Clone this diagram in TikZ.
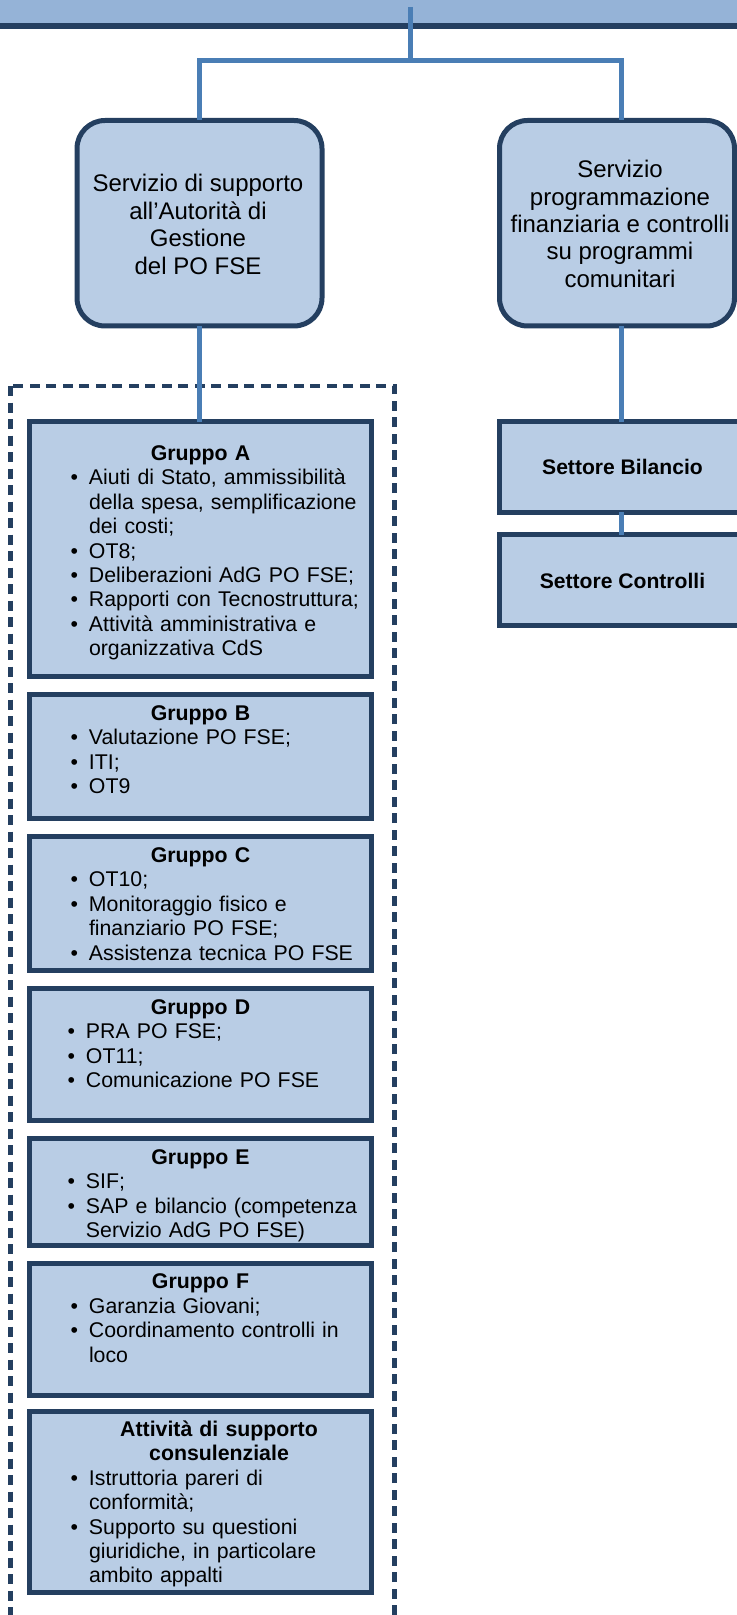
\documentclass[tikz,border=0pt]{standalone}
\usepackage{fontspec}
\setmainfont{Liberation Sans}

\definecolor{bfill}{HTML}{B9CDE5}
\definecolor{bord}{HTML}{243F60}
\definecolor{conncol}{HTML}{4A7EB5}
\definecolor{barfill}{HTML}{95B3D7}

% indentation of the bullet text inside the group boxes
\newlength{\ind}
\setlength{\ind}{29.75pt}
% paragraph settings for the group texts
\newcommand{\grsetup}{\setlength{\parindent}{0pt}\setlength{\parskip}{0pt}}
% one bullet item; lines inside an item are broken with \newline
\newcommand{\itm}[1]{\par{\leftskip=\ind\noindent\llap{\textbullet\hspace{5.4pt}}#1\par}}
% bold centred heading of a group box
\newcommand{\grtitle}[1]{{\centering\bfseries\rule{0pt}{9pt}#1\par}}

\tikzset{
  shapebox/.style={rectangle, draw=bord, fill=bfill, line width=2.5pt,
    inner sep=0pt, outer sep=0pt},
  roundbox/.style={shapebox, rounded corners=14pt},
  grbox/.style={shapebox, minimum width=171pt},
  titletext/.style={align=center, inner sep=0pt,
    font=\fontsize{12pt}{13.7pt}\selectfont},
  settext/.style={inner sep=0pt, font=\bfseries\fontsize{10.55pt}{12pt}\selectfont},
  grtext/.style={anchor=north, text width=171pt, align=left, inner sep=0pt,
    font=\fontsize{10.65pt}{12.2pt}\selectfont},
  conn/.style={draw=conncol, line width=2.25pt},
  dashbox/.style={draw=bord, line width=2.25pt, dash pattern=on 5pt off 3.25pt},
}

\begin{document}
\begin{tikzpicture}[x=0.5pt,y=-0.5pt]
\useasboundingbox (0,0) rectangle (737,1615);

% header band
\draw[fill=barfill, draw=bord, line width=3pt] (-20,-40) rectangle (757,26);

% group frame
\draw[dashbox] (10.5,386) rectangle (394.5,1650);

% services
\node[roundbox, minimum width=122.5pt, minimum height=102.75pt] (sup) at (199.5,223.25) {};
\node[titletext] (suptext) at (198,224.5)
  {Servizio di supporto\\all’Autorità di\\Gestione\\del PO FSE};
\node[roundbox, minimum width=117.5pt, minimum height=102.75pt] (rsv) at (617,223.25) {};
\node[titletext] (rsvtext) at (620,224)
  {Servizio\\programmazione\\finanziaria e controlli\\su programmi\\comunitari};

% sectors
\node[shapebox, minimum width=130.25pt, minimum height=45.25pt] (bil) at (629.75,466.75) {};
\node[settext] (biltext) at (622.5,467) {Settore Bilancio};
\node[shapebox, minimum width=130.25pt, minimum height=45.5pt] (ctl) at (629.75,580) {};
\node[settext] (ctltext) at (622.5,580.5) {Settore Controlli};

% groups
\node[grbox, minimum height=127.25pt] (gA) at (200.5,548.75) {};
\node[grtext] (gAt) at (200.5,442) {\grsetup
  \grtitle{Gruppo A}
  \itm{Aiuti di Stato, ammissibilità\newline della spesa, semplificazione\newline dei costi;}
  \itm{OT8;}
  \itm{Deliberazioni AdG PO FSE;}
  \itm{Rapporti con Tecnostruttura;}
  \itm{Attività amministrativa e\newline organizzativa CdS}};

\node[grbox, minimum height=62pt] (gB) at (200.5,756.5) {};
\node[grtext] (gBt) at (200.5,702) {\grsetup
  \grtitle{Gruppo B}
  \itm{Valutazione PO FSE;}
  \itm{ITI;}
  \itm{OT9}};

\node[grbox, minimum height=67pt] (gC) at (200.5,903.5) {};
\node[grtext] (gCt) at (200.5,844) {\grsetup
  \grtitle{Gruppo C}
  \itm{OT10;}
  \itm{Monitoraggio fisico e\newline finanziario PO FSE;}
  \itm{Assistenza tecnica PO FSE}};

\node[grbox, minimum height=66pt] (gD) at (200.5,1054.5) {};
\node[grtext] (gDt) at (200.5,996) {\grsetup\setlength{\ind}{28.25pt}%
  \grtitle{Gruppo D}
  \itm{PRA PO FSE;}
  \itm{OT11;}
  \itm{Comunicazione PO FSE}};

\node[grbox, minimum height=53.25pt] (gE) at (200.5,1191.75) {};
\node[grtext] (gEt) at (200.5,1146) {\grsetup\setlength{\ind}{28.25pt}%
  \grtitle{Gruppo E}
  \itm{SIF;}
  \itm{SAP e bilancio (competenza\newline Servizio AdG PO FSE)}};

\node[grbox, minimum height=66pt] (gF) at (200.5,1329) {};
\node[grtext] (gFt) at (200.5,1270.5) {\grsetup
  \grtitle{Gruppo F}
  \itm{Garanzia Giovani;}
  \itm{Coordinamento controlli in\newline loco}};

\node[grbox, minimum height=90.5pt] (gG) at (200.5,1502) {};
\node[grtext] (gGt) at (200.5,1418) {\grsetup
  {\centering\leftskip=18.5pt plus 1fil\bfseries\rule{0pt}{9pt}Attività di supporto\par
   consulenziale\par}
  \itm{Istruttoria pareri di\newline conformità;}
  \itm{Supporto su questioni\newline giuridiche, in particolare\newline ambito appalti}};

% connectors
\coordinate (topc) at (410.5,7);
\coordinate (junc) at (410.5,60.5);
\coordinate (rx) at (621.5,0);
\draw[conn] (topc) -- (junc);
\draw[conn] (junc) -| (sup.north);
\draw[conn] (junc) -| (rsv.north -| rx);
\draw[conn] (sup.south) -- (sup.south |- gA.north);
\draw[conn] (rsv.south -| rx) -- (bil.north -| rx);
\draw[conn] (bil.south -| rx) -- (ctl.north -| rx);
\end{tikzpicture}
\end{document}
